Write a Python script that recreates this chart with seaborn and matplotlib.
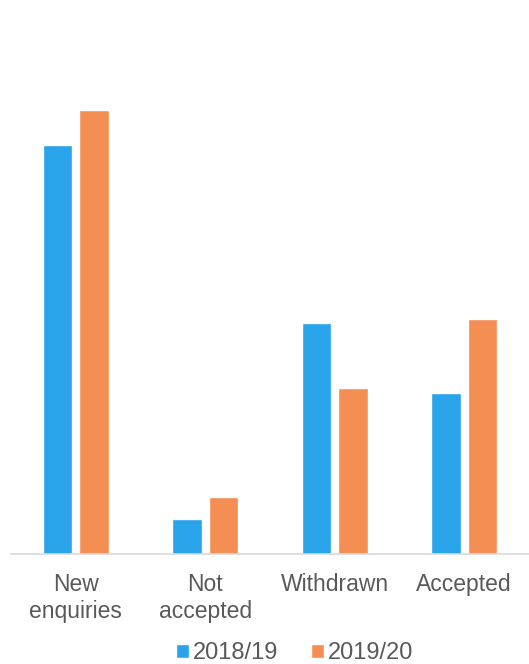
import numpy as np
import pandas as pd
import matplotlib
matplotlib.use("Agg")
import matplotlib.pyplot as plt
import seaborn as sns

# Data (relative heights)
categories = ["New\nenquiries", "Not\naccepted", "Withdrawn", "Accepted"]
years = ["2018/19", "2019/20"]
values_1819 = [409, 35, 231, 161]
values_1920 = [444, 57, 166, 235]
colors = ["#29A3E9", "#F58E52"]

df = pd.DataFrame({
    "category": categories * 2,
    "year": [years[0]] * 4 + [years[1]] * 4,
    "value": values_1819 + values_1920,
})

sns.set_theme(style="white")
plt.rcParams["font.family"] = ["Liberation Sans", "DejaVu Sans"]

fig = plt.figure(figsize=(5.29, 6.64), dpi=100)
ax = fig.add_axes([0.021, 0.166, 0.979, 0.753])

sns.barplot(data=df, x="category", y="value", hue="year", palette=colors,
            width=0.564, gap=0.2, saturation=1, ax=ax, legend=True)

ax.set_ylim(0, 500)
ax.set_xlim(-0.5, 3.5)
ax.set_xlabel("")
ax.set_ylabel("")
ax.set_yticks([])
ax.tick_params(axis="x", length=0, pad=14, labelsize=16.5, labelcolor="#595959")
for lbl in ax.get_xticklabels():
    lbl.set_linespacing(1.2)

for side in ["top", "right", "left"]:
    ax.spines[side].set_visible(False)
ax.spines["bottom"].set_color("#D9D9D9")
ax.spines["bottom"].set_linewidth(1.2)

handles, labels = ax.get_legend_handles_labels()
ax.legend_.remove()
fig.legend(handles, labels, loc="center", bbox_to_anchor=(0.557, 0.016),
           ncol=2, frameon=False, fontsize=17, labelcolor="#595959",
           handlelength=0.55, handleheight=0.55, handletextpad=0.15,
           columnspacing=1.4, borderpad=0.1)

fig.savefig("out.png", dpi=100)
